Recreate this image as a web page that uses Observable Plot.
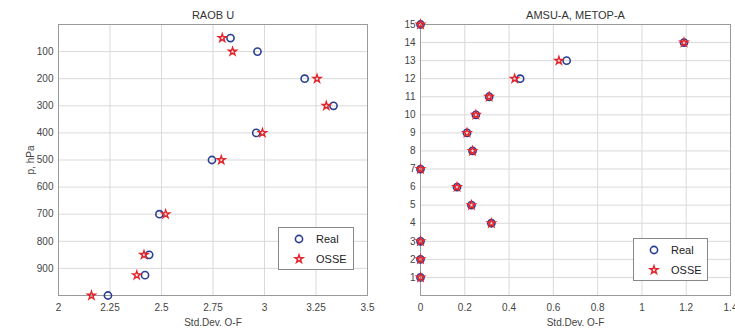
<!DOCTYPE html>
<html><head><meta charset="utf-8">
<script src="https://cdn.jsdelivr.net/npm/d3@7"></script>
<script src="https://cdn.jsdelivr.net/npm/@observablehq/plot@0.6"></script>
<style>
body{margin:0;background:#fff;font-family:"Liberation Sans",Arial,sans-serif;}
#wrap{position:relative;width:735px;height:328px;overflow:hidden;background:#fff;}
.panel{position:absolute;top:0;}
.panel svg{overflow:visible;}
.legend{position:absolute;border:1px solid #888;background:#fff;font-size:11px;color:#222;}
.legend .row{position:absolute;left:0;display:flex;align-items:center;}
.legend svg{overflow:visible}
</style></head>
<body><div id="wrap"></div>
<script>
// RAOB U panel
const levels = [50, 100, 200, 300, 400, 500, 700, 850, 925, 1000];
const raobReal = [2.835, 2.966, 3.195, 3.335, 2.96, 2.745, 2.49, 2.44, 2.42, 2.24];
const raobOsse = [2.795, 2.845, 3.255, 3.30, 2.99, 2.79, 2.52, 2.415, 2.38, 2.16];
const raobXTicks = [2, 2.25, 2.5, 2.75, 3, 3.25, 3.5];
const raobYTicks = [100, 200, 300, 400, 500, 600, 700, 800, 900];
// AMSU-A, METOP-A panel
const channels = [1, 2, 3, 4, 5, 6, 7, 8, 9, 10, 11, 12, 13, 14, 15];
const amsuReal = [0, 0, 0, 0.32, 0.23, 0.165, 0, 0.235, 0.21, 0.25, 0.31, 0.45, 0.66, 1.19, 0];
const amsuOsse = [0, 0, 0, 0.32, 0.23, 0.165, 0, 0.235, 0.21, 0.25, 0.31, 0.425, 0.625, 1.19, 0];
const amsuXTicks = [0, 0.2, 0.4, 0.6, 0.8, 1, 1.2, 1.4];
const amsuYTicks = channels;
const seriesNames = ["Real", "OSSE"];

const BLUE = "#2a3f94", RED = "#e3242b";
const wrap = document.getElementById("wrap");

function panel(opts) {
  const real = opts.ys.map((y, i) => ({x: opts.real[i], y}));
  const osse = opts.ys.map((y, i) => ({x: opts.osse[i], y}));
  const p = Plot.plot({
    width: opts.width, height: 328,
    marginLeft: opts.ml, marginRight: opts.mr, marginTop: 24, marginBottom: 33,
    style: {fontFamily: "Liberation Sans, Arial, sans-serif", fontSize: "10px", color: "#333", background: "transparent", overflow: "visible"},
    x: {domain: opts.xdom},
    y: {domain: opts.ydom, reverse: opts.reverse},
    marks: [
      Plot.gridX(opts.xticks, {stroke: "#d9d9d9", strokeOpacity: 1}),
      Plot.gridY(opts.yticks, {stroke: "#d9d9d9", strokeOpacity: 1}),
      Plot.frame({stroke: "#9a9a9a"}),
      Plot.axisX(opts.xticks, {tickSize: 0, tickPadding: 8, fontSize: 10, fill: "#444", tickFormat: d => String(d),
        label: "Std.Dev. O-F", labelAnchor: "center", labelOffset: 30, labelArrow: "none"}),
      Plot.axisY(opts.yticks, {tickSize: 0, tickPadding: 5, fontSize: 10, fill: "#444", tickFormat: d => String(d),
        label: opts.ylabel, labelAnchor: "center", labelOffset: opts.ylabelOffset, labelArrow: "none"}),
      Plot.text([opts.title], {frameAnchor: "top", dy: -13, fontSize: 11, fill: "#333"}),
      Plot.dot(real, {x: "x", y: "y", symbol: "circle", r: 3.6, stroke: BLUE, strokeWidth: 1.6, fill: "none", clip: false}),
      Plot.dot(osse, {x: "x", y: "y", symbol: "star", r: 2.5, stroke: RED, strokeWidth: 1.4, fill: "none", clip: false})
    ]
  });
  const d = document.createElement("div");
  d.className = "panel";
  d.style.left = opts.left + "px";
  d.appendChild(p);
  wrap.appendChild(d);
}

panel({left: 0, width: 370, ml: 58, mr: 3, xdom: [2, 3.5], ydom: [0, 1000], reverse: true,
  real: raobReal, osse: raobOsse, ys: levels, xticks: raobXTicks, yticks: raobYTicks,
  title: "RAOB U", ylabel: "p, hPa", ylabelOffset: 32});
panel({left: 370, width: 365, ml: 50, mr: 5, xdom: [0, 1.4], ydom: [0, 15], reverse: false,
  real: amsuReal, osse: amsuOsse, ys: channels, xticks: amsuXTicks, yticks: amsuYTicks,
  title: "AMSU-A, METOP-A", ylabel: null, ylabelOffset: 0});

function legend(left, top, w, h) {
  const L = document.createElement("div");
  L.className = "legend";
  Object.assign(L.style, {left: left + "px", top: top + "px", width: w + "px", height: h + "px"});
  const star = d3.symbol(d3.symbolStar, 20)();
  seriesNames.forEach((name, i) => {
    const row = document.createElement("div");
    row.className = "row";
    row.style.top = (i === 0 ? 4 : 24) + "px";
    const sym = i === 0
      ? `<circle cx="0" cy="0" r="3.6" fill="none" stroke="${BLUE}" stroke-width="1.6"/>`
      : `<path d="${star}" fill="none" stroke="${RED}" stroke-width="1.4"/>`;
    row.innerHTML = `<svg width="14" height="14" style="margin-left:13px;margin-right:10px" viewBox="-7 -7 14 14">${sym}</svg><span>${name}</span>`;
    L.appendChild(row);
  });
  wrap.appendChild(L);
}
legend(278, 227, 74, 41);
legend(633, 238, 73, 41);
</script></body></html>
